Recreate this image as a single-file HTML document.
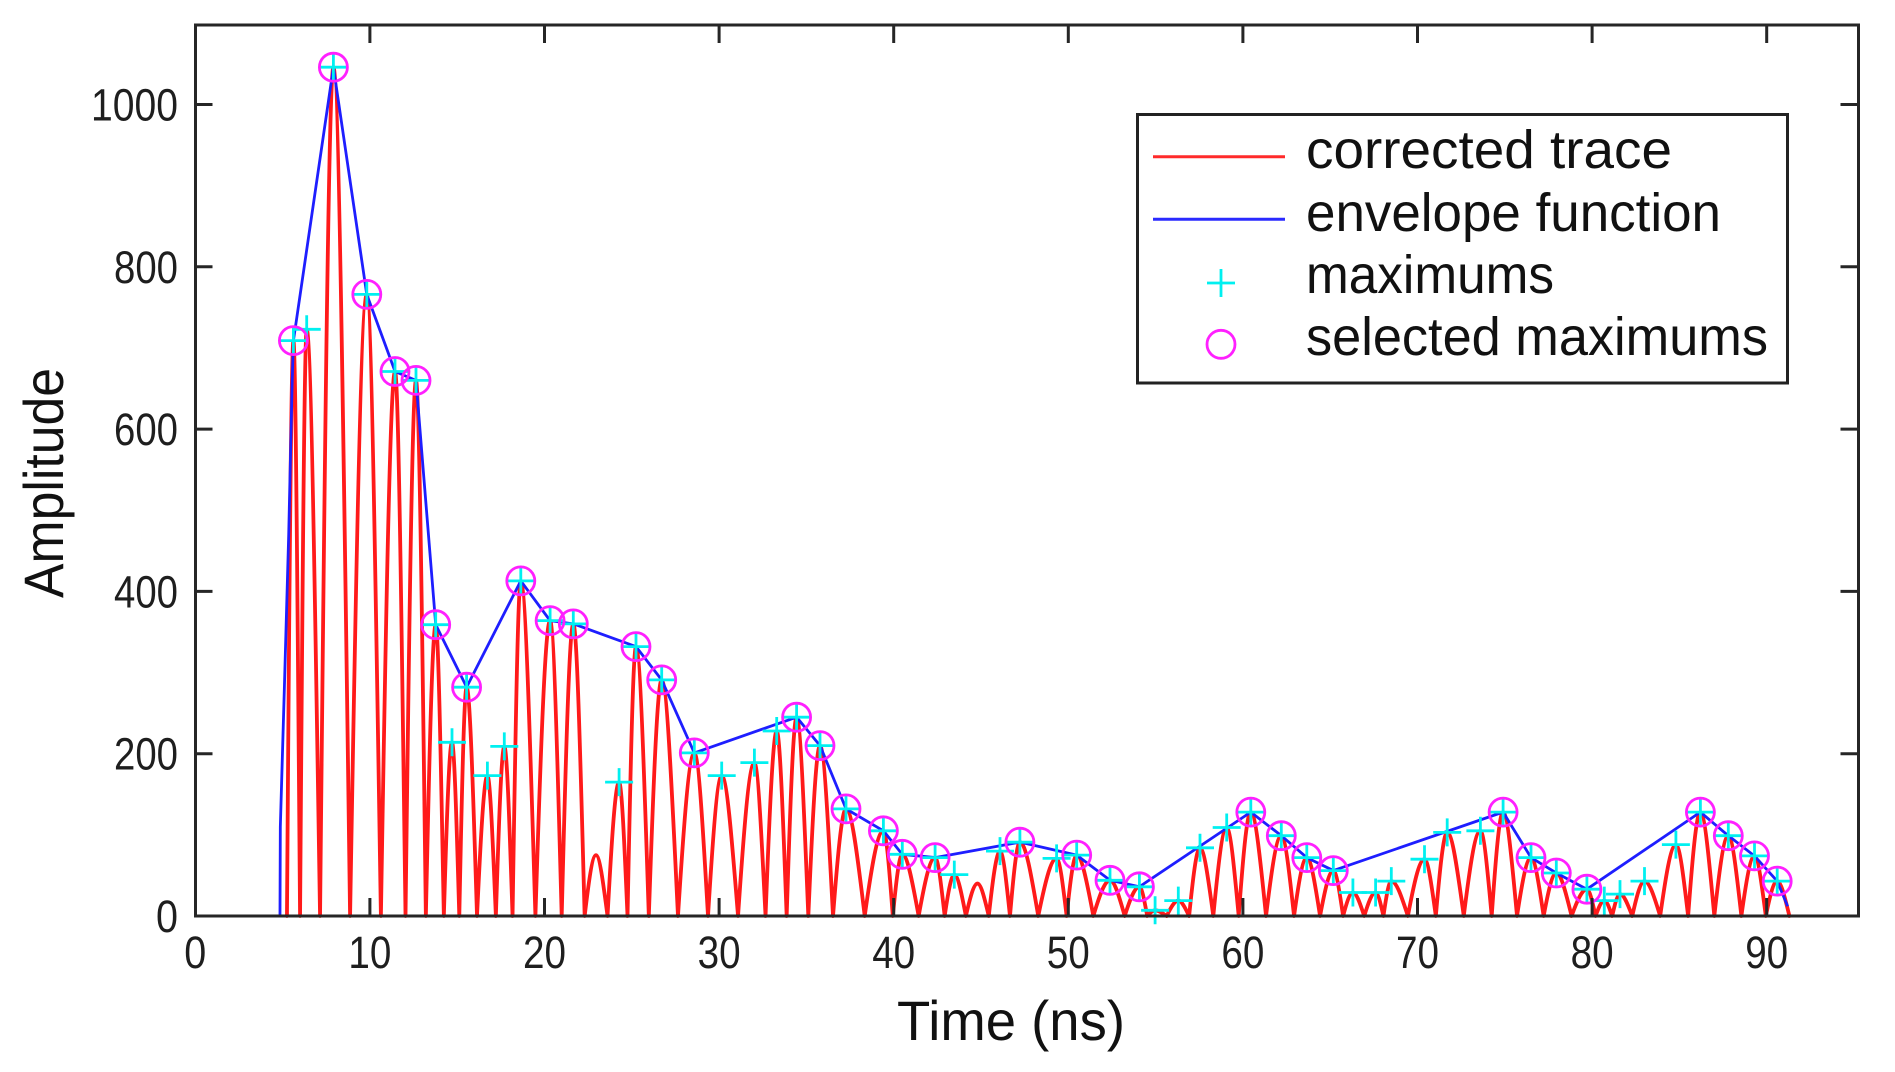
<!DOCTYPE html>
<html><head><meta charset="utf-8"><style>html,body{margin:0;padding:0;background:#fff}svg{display:block}</style></head>
<body>
<svg width="1895" height="1072" viewBox="0 0 1895 1072" xmlns="http://www.w3.org/2000/svg">
<rect width="1895" height="1072" fill="#fff"/>
<defs>
<path id="pl" d="M-14,0H14M0,-14V14" stroke="#00f0f0" stroke-width="2.8" fill="none"/>
</defs>
<g transform="translate(195.3,916) scale(17.46,-0.8115)">
<path fill="none" stroke="#ff1a1a" stroke-width="3.8" stroke-linejoin="round" stroke-linecap="round" vector-effect="non-scaling-stroke" d="M5.25,0
C5.373,371.2 5.497,709 5.62,709 C5.747,709 5.873,337.8 6.0,0
C6.127,378.6 6.253,723 6.38,723 C6.635,723 6.89,344.4 7.145,0
C7.4,547.7 7.655,1046 7.91,1046 C8.228,1046 8.547,498.3 8.865,0
C9.183,401.1 9.502,766 9.82,766 C10.09,766 10.36,364.9 10.63,0
C10.9,351.3 11.17,671 11.44,671 C11.64,671 11.84,319.7 12.04,0
C12.24,345.6 12.44,660 12.64,660 C12.828,660 13.017,314.4 13.205,0
C13.393,188 13.582,359 13.77,359 C13.925,359 14.08,171 14.235,0
C14.39,112.1 14.545,214 14.7,214 C14.84,214 14.98,101.9 15.12,0
C15.26,147.7 15.4,282 15.54,282 C15.738,282 15.937,134.3 16.135,0
C16.333,90.6 16.532,173 16.73,173 C16.892,173 17.053,82.4 17.215,0
C17.377,109.4 17.538,209 17.7,209 C17.857,209 18.013,99.6 18.17,0
C18.327,216.2 18.483,413 18.64,413 C18.92,413 19.2,196.8 19.48,0
C19.76,190.6 20.04,364 20.32,364 C20.542,364 20.763,173.4 20.985,0
C21.207,188.5 21.428,360 21.65,360 C21.867,360 22.083,171.5 22.3,0
C22.517,39.3 22.733,75 22.95,75 C23.17,75 23.39,35.7 23.61,0
C23.83,86.4 24.05,165 24.27,165 C24.432,165 24.593,78.6 24.755,0
C24.917,173.8 25.078,332 25.24,332 C25.485,332 25.73,158.2 25.975,0
C26.22,152.4 26.465,291 26.71,291 C27.022,291 27.333,138.6 27.645,0
C27.957,105.2 28.268,201 28.58,201 C28.842,201 29.103,95.8 29.365,0
C29.627,90.6 29.888,173 30.15,173 C30.462,173 30.773,82.4 31.085,0
C31.397,99 31.708,189 32.02,189 C32.233,189 32.447,90 32.66,0
C32.873,119.4 33.087,228 33.3,228 C33.49,228 33.68,108.6 33.87,0
C34.06,128.3 34.25,245 34.44,245 C34.663,245 34.887,116.7 35.11,0
C35.333,110 35.557,210 35.78,210 C36.028,210 36.277,100 36.525,0
C36.773,69.1 37.022,132 37.27,132 C37.627,132 37.983,62.9 38.34,0
C38.697,55 39.053,105 39.41,105 C39.59,105 39.77,50 39.95,0
C40.13,39.8 40.31,76 40.49,76 C40.803,76 41.117,36.2 41.43,0
C41.743,37.7 42.057,72 42.37,72 C42.553,72 42.737,34.3 42.92,0
C43.103,26.7 43.287,51 43.47,51 C43.692,51 43.913,24.3 44.135,0
C44.357,20.9 44.578,40 44.8,40 C45.015,40 45.23,19.1 45.445,0
C45.66,41.9 45.875,80 46.09,80 C46.28,80 46.47,38.1 46.66,0
C46.85,47.6 47.04,91 47.23,91 C47.58,91 47.93,43.4 48.28,0
C48.63,37.2 48.98,71 49.33,71 C49.522,71 49.713,33.8 49.905,0
C50.097,39.3 50.288,75 50.48,75 C50.798,75 51.117,35.7 51.435,0
C51.753,23 52.072,44 52.39,44 C52.67,44 52.95,21 53.23,0
C53.51,18.8 53.79,36 54.07,36 C54.22,36 54.37,17.2 54.52,0
C54.67,3.7 54.82,7 54.97,7 C55.192,7 55.413,3.3 55.635,0
C55.857,9.9 56.078,19 56.3,19 C56.507,19 56.713,9.1 56.92,0
C57.127,44 57.333,84 57.54,84 C57.795,84 58.05,40 58.305,0
C58.56,57.1 58.815,109 59.07,109 C59.3,109 59.53,51.9 59.76,0
C59.99,67 60.22,128 60.45,128 C60.742,128 61.033,61 61.325,0
C61.617,51.8 61.908,99 62.2,99 C62.443,99 62.687,47.2 62.93,0
C63.173,37.7 63.417,72 63.66,72 C63.913,72 64.167,34.3 64.42,0
C64.673,29.3 64.927,56 65.18,56 C65.367,56 65.553,26.7 65.74,0
C65.927,15.2 66.113,29 66.3,29 C66.517,29 66.733,13.8 66.95,0
C67.167,15.2 67.383,29 67.6,29 C67.75,29 67.9,13.8 68.05,0
C68.2,22.5 68.35,43 68.5,43 C68.817,43 69.133,20.5 69.45,0
C69.767,36.7 70.083,70 70.4,70 C70.617,70 70.833,33.3 71.05,0
C71.267,53.9 71.483,103 71.7,103 C72.017,103 72.333,49.1 72.65,0
C72.967,55 73.283,105 73.6,105 C73.817,105 74.033,50 74.25,0
C74.467,67 74.683,128 74.9,128 C75.167,128 75.433,61 75.7,0
C75.967,37.7 76.233,72 76.5,72 C76.742,72 76.983,34.3 77.225,0
C77.467,27.8 77.708,53 77.95,53 C78.242,53 78.533,25.2 78.825,0
C79.117,17.3 79.408,33 79.7,33 C79.867,33 80.033,15.7 80.2,0
C80.367,9.9 80.533,19 80.7,19 C80.85,19 81,9.1 81.15,0
C81.3,14.1 81.45,27 81.6,27 C81.833,27 82.067,12.9 82.3,0
C82.533,22.5 82.767,43 83,43 C83.3,43 83.6,20.5 83.9,0
C84.2,46.1 84.5,88 84.8,88 C85.033,88 85.267,41.9 85.5,0
C85.733,67 85.967,128 86.2,128 C86.467,128 86.733,61 87,0
C87.267,51.8 87.533,99 87.8,99 C88.05,99 88.3,47.2 88.55,0
C88.8,38.7 89.05,74 89.3,74 C89.517,74 89.733,35.3 89.95,0
C90.167,22.5 90.383,43 90.6,43 C90.833,43 91.067,20.5 91.3,0"/>
<polyline fill="none" stroke="#1e1eff" stroke-width="2.8" stroke-linejoin="round" vector-effect="non-scaling-stroke" points="4.85,0 4.87,110 5.1,280 5.35,470 5.55,660 5.62,709 7.91,1046 9.82,766 11.44,671 12.64,660 13.77,359 15.54,282 18.64,413 20.32,364 21.65,360 25.24,332 26.71,291 28.58,201 34.44,245 35.78,210 37.27,132 39.41,105 40.49,76 42.37,72 47.23,91 50.48,75 52.39,44 54.07,36 60.45,128 62.2,99 63.66,72 65.18,56 74.9,128 76.5,72 77.95,53 79.7,33 86.2,128 87.8,99 89.3,74 90.6,43 91.2,12"/>
</g>
<g>
<use href="#pl" x="293.4" y="340.6"/><use href="#pl" x="306.7" y="329.3"/><use href="#pl" x="333.4" y="67.2"/><use href="#pl" x="366.8" y="294.4"/><use href="#pl" x="395.0" y="371.5"/><use href="#pl" x="416.0" y="380.4"/><use href="#pl" x="435.7" y="624.7"/><use href="#pl" x="452.0" y="742.3"/><use href="#pl" x="466.6" y="687.2"/><use href="#pl" x="487.4" y="775.6"/><use href="#pl" x="504.3" y="746.4"/><use href="#pl" x="520.8" y="580.9"/><use href="#pl" x="550.1" y="620.6"/><use href="#pl" x="573.3" y="623.9"/><use href="#pl" x="619.1" y="782.1"/><use href="#pl" x="636.0" y="646.6"/><use href="#pl" x="661.7" y="679.9"/><use href="#pl" x="694.3" y="752.9"/><use href="#pl" x="721.7" y="775.6"/><use href="#pl" x="754.4" y="762.6"/><use href="#pl" x="776.7" y="731.0"/><use href="#pl" x="796.6" y="717.2"/><use href="#pl" x="820.0" y="745.6"/><use href="#pl" x="846.0" y="808.9"/><use href="#pl" x="883.4" y="830.8"/><use href="#pl" x="902.3" y="854.3"/><use href="#pl" x="935.1" y="857.6"/><use href="#pl" x="954.3" y="874.6"/><use href="#pl" x="1000.0" y="851.1"/><use href="#pl" x="1019.9" y="842.2"/><use href="#pl" x="1056.6" y="858.4"/><use href="#pl" x="1076.7" y="855.1"/><use href="#pl" x="1110.0" y="880.3"/><use href="#pl" x="1139.4" y="886.8"/><use href="#pl" x="1155.1" y="910.3"/><use href="#pl" x="1178.3" y="900.6"/><use href="#pl" x="1200.0" y="847.8"/><use href="#pl" x="1226.7" y="827.5"/><use href="#pl" x="1250.8" y="812.1"/><use href="#pl" x="1281.3" y="835.7"/><use href="#pl" x="1306.8" y="857.6"/><use href="#pl" x="1333.3" y="870.6"/><use href="#pl" x="1352.9" y="892.5"/><use href="#pl" x="1375.6" y="892.5"/><use href="#pl" x="1391.3" y="881.1"/><use href="#pl" x="1424.5" y="859.2"/><use href="#pl" x="1447.2" y="832.4"/><use href="#pl" x="1480.4" y="830.8"/><use href="#pl" x="1503.1" y="812.1"/><use href="#pl" x="1531.0" y="857.6"/><use href="#pl" x="1556.3" y="873.0"/><use href="#pl" x="1586.9" y="889.2"/><use href="#pl" x="1604.3" y="900.6"/><use href="#pl" x="1620.0" y="894.1"/><use href="#pl" x="1644.5" y="881.1"/><use href="#pl" x="1675.9" y="844.6"/><use href="#pl" x="1700.4" y="812.1"/><use href="#pl" x="1728.3" y="835.7"/><use href="#pl" x="1754.5" y="855.9"/><use href="#pl" x="1777.2" y="881.1"/>
</g>
<g fill="none" stroke="#ff20ff" stroke-width="2.8">
<circle cx="293.4" cy="340.6" r="14"/><circle cx="333.4" cy="67.2" r="14"/><circle cx="366.8" cy="294.4" r="14"/><circle cx="395.0" cy="371.5" r="14"/><circle cx="416.0" cy="380.4" r="14"/><circle cx="435.7" cy="624.7" r="14"/><circle cx="466.6" cy="687.2" r="14"/><circle cx="520.8" cy="580.9" r="14"/><circle cx="550.1" cy="620.6" r="14"/><circle cx="573.3" cy="623.9" r="14"/><circle cx="636.0" cy="646.6" r="14"/><circle cx="661.7" cy="679.9" r="14"/><circle cx="694.3" cy="752.9" r="14"/><circle cx="796.6" cy="717.2" r="14"/><circle cx="820.0" cy="745.6" r="14"/><circle cx="846.0" cy="808.9" r="14"/><circle cx="883.4" cy="830.8" r="14"/><circle cx="902.3" cy="854.3" r="14"/><circle cx="935.1" cy="857.6" r="14"/><circle cx="1019.9" cy="842.2" r="14"/><circle cx="1076.7" cy="855.1" r="14"/><circle cx="1110.0" cy="880.3" r="14"/><circle cx="1139.4" cy="886.8" r="14"/><circle cx="1250.8" cy="812.1" r="14"/><circle cx="1281.3" cy="835.7" r="14"/><circle cx="1306.8" cy="857.6" r="14"/><circle cx="1333.3" cy="870.6" r="14"/><circle cx="1503.1" cy="812.1" r="14"/><circle cx="1531.0" cy="857.6" r="14"/><circle cx="1556.3" cy="873.0" r="14"/><circle cx="1586.9" cy="889.2" r="14"/><circle cx="1700.4" cy="812.1" r="14"/><circle cx="1728.3" cy="835.7" r="14"/><circle cx="1754.5" cy="855.9" r="14"/><circle cx="1777.2" cy="881.1" r="14"/>
</g>
<g stroke="#262626" stroke-width="3" fill="none">
<rect x="195.5" y="25" width="1663" height="891"/>
<path d="M369.9,916v-18M544.5,916v-18M719.1,916v-18M893.7,916v-18M1068.3,916v-18M1242.9,916v-18M1417.5,916v-18M1592.1,916v-18M1766.7,916v-18"/>
<path d="M369.9,25v18M544.5,25v18M719.1,25v18M893.7,25v18M1068.3,25v18M1242.9,25v18M1417.5,25v18M1592.1,25v18M1766.7,25v18"/>
<path d="M195.5,753.7h17M195.5,591.4h17M195.5,429.1h17M195.5,266.8h17M195.5,104.5h17"/>
<path d="M1858.5,753.7h-18M1858.5,591.4h-18M1858.5,429.1h-18M1858.5,266.8h-18M1858.5,104.5h-18"/>
</g>
<g font-family="'Liberation Sans', Arial, sans-serif" font-size="45" fill="#1e1e1e" text-anchor="middle">
<text x="195.3" y="968" textLength="22" lengthAdjust="spacingAndGlyphs">0</text>
<text x="369.9" y="968" textLength="43" lengthAdjust="spacingAndGlyphs">10</text>
<text x="544.5" y="968" textLength="43" lengthAdjust="spacingAndGlyphs">20</text>
<text x="719.1" y="968" textLength="43" lengthAdjust="spacingAndGlyphs">30</text>
<text x="893.7" y="968" textLength="43" lengthAdjust="spacingAndGlyphs">40</text>
<text x="1068.3" y="968" textLength="43" lengthAdjust="spacingAndGlyphs">50</text>
<text x="1242.9" y="968" textLength="43" lengthAdjust="spacingAndGlyphs">60</text>
<text x="1417.5" y="968" textLength="43" lengthAdjust="spacingAndGlyphs">70</text>
<text x="1592.1" y="968" textLength="43" lengthAdjust="spacingAndGlyphs">80</text>
<text x="1766.7" y="968" textLength="43" lengthAdjust="spacingAndGlyphs">90</text>
</g>
<g font-family="'Liberation Sans', Arial, sans-serif" font-size="45" fill="#1e1e1e" text-anchor="end">
<text x="178" y="932" textLength="22" lengthAdjust="spacingAndGlyphs">0</text>
<text x="178" y="769.7" textLength="64" lengthAdjust="spacingAndGlyphs">200</text>
<text x="178" y="607.4" textLength="64" lengthAdjust="spacingAndGlyphs">400</text>
<text x="178" y="445.1" textLength="64" lengthAdjust="spacingAndGlyphs">600</text>
<text x="178" y="282.8" textLength="64" lengthAdjust="spacingAndGlyphs">800</text>
<text x="178" y="120.5" textLength="87" lengthAdjust="spacingAndGlyphs">1000</text>
</g>
<g font-family="'Liberation Sans', Arial, sans-serif" font-size="56" fill="#111">
<text x="897" y="1040" textLength="228" lengthAdjust="spacingAndGlyphs">Time (ns)</text>
<text transform="translate(63,598) rotate(-90)" x="0" y="0" textLength="230" lengthAdjust="spacingAndGlyphs">Amplitude</text>
</g>
<rect x="1137.5" y="114.5" width="650" height="268.5" fill="#fff" stroke="#222" stroke-width="3"/>
<line x1="1153" y1="156.7" x2="1285" y2="156.7" stroke="#ff2a2a" stroke-width="3"/>
<line x1="1153" y1="219.3" x2="1285" y2="219.3" stroke="#2a2aff" stroke-width="3"/>
<use href="#pl" x="1221" y="283"/>
<circle cx="1221" cy="344.3" r="14" fill="none" stroke="#ff20ff" stroke-width="2.8"/>
<g font-family="'Liberation Sans', Arial, sans-serif" font-size="54" fill="#111">
<text x="1306" y="168" textLength="366" lengthAdjust="spacingAndGlyphs">corrected trace</text>
<text x="1306" y="231" textLength="415" lengthAdjust="spacingAndGlyphs">envelope function</text>
<text x="1306" y="293" textLength="248" lengthAdjust="spacingAndGlyphs">maximums</text>
<text x="1306" y="355" textLength="462" lengthAdjust="spacingAndGlyphs">selected maximums</text>
</g>
</svg>
</body></html>
